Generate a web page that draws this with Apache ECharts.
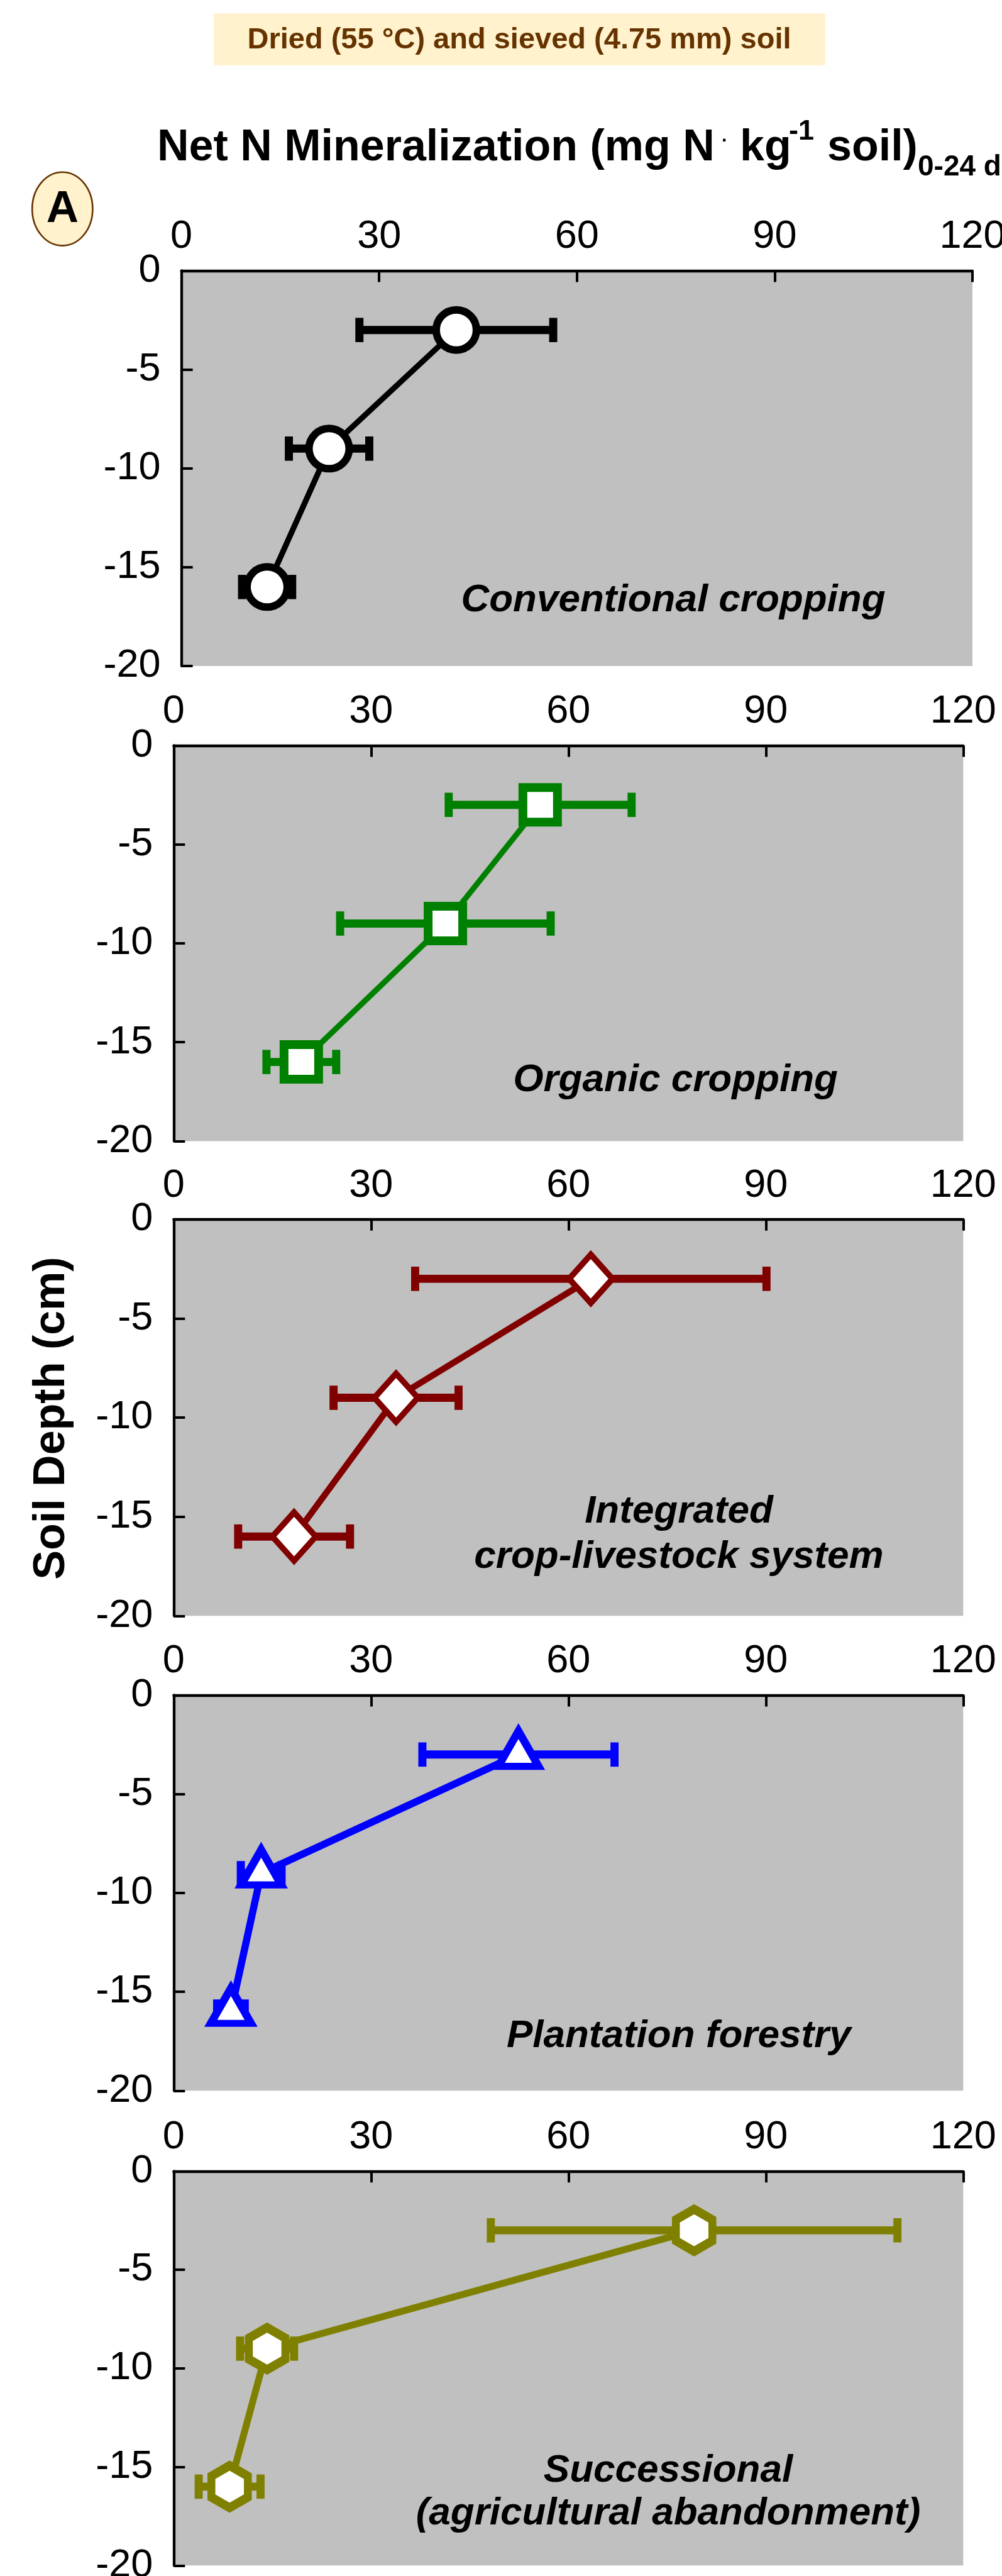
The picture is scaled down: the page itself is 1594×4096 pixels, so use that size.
<!DOCTYPE html>
<html><head><meta charset="utf-8">
<script src="https://cdn.jsdelivr.net/npm/echarts@6/dist/echarts.min.js"></script>
<style>html,body{margin:0;padding:0;background:#fff}#c{width:1594px;height:4096px}</style>
</head><body><div id="c"></div>
<script>
// ---- data ----
const depths = [-3, -9, -16];
const xTicks = [0, 30, 60, 90, 120];
const yTicks = [0, -5, -10, -15, -20];
const conventionalMean = [41.7, 22.4, 13.0];
const conventionalErr  = [14.7, 6.1, 3.8];
const organicMean      = [55.7, 41.3, 19.4];
const organicErr       = [13.9, 16.0, 5.3];
const integratedMean   = [63.4, 33.8, 18.3];
const integratedErr    = [26.7, 9.5, 8.5];
const plantationMean   = [52.4, 13.3, 8.7];
const plantationErr    = [14.6, 3.1, 2.1];
const successionalMean = [79.1, 14.2, 8.5];
const successionalErr  = [30.9, 4.1, 4.7];
const systemLabels = [
  ['Conventional cropping'],
  ['Organic cropping'],
  ['Integrated', 'crop-livestock system'],
  ['Plantation forestry'],
  ['Successional', '(agricultural abandonment)']
];
const boxTitle = 'Dried (55 °C) and sieved (4.75 mm) soil';
const yAxisTitle = 'Soil Depth (cm)';
const panelLetter = 'A';

// ---- layout / style ----
const FF = "'Liberation Sans', Arial, Helvetica, sans-serif";
const HEX = 'path://M50,0 L93.3,25 L93.3,75 L50,100 L6.7,75 L6.7,25 Z';
const panels = [
  {mean: conventionalMean, err: conventionalErr, color: '#000000', symbol: 'circle', size: 64, bw: 12, lw: 9, off: [0,0],
   grid: {left: 288.6, top: 430.4, width: 1258.4, height: 628.7}, labelY: [954.5]},
  {mean: organicMean, err: organicErr, color: '#008000', symbol: 'rect', size: 55, bw: 14, lw: 9, off: [0,0],
   grid: {left: 276.3, top: 1185.4, width: 1256, height: 629}, labelY: [1718]},
  {mean: integratedMean, err: integratedErr, color: '#800000', symbol: 'diamond', size: [69, 77], bw: 9.5, lw: 10, off: [0,0],
   grid: {left: 276.3, top: 1938.8, width: 1256, height: 630.5}, labelY: [2403.5, 2475.6]},
  {mean: plantationMean, err: plantationErr, color: '#0000FF', symbol: 'triangle', size: [64, 56], bw: 12, lw: 11.5, off: [0,-9.3],
   grid: {left: 276.3, top: 2695.5, width: 1256, height: 628.8}, labelY: [3237.6]},
  {mean: successionalMean, err: successionalErr, color: '#808000', symbol: HEX, size: [58, 67], bw: 13.5, lw: 11, off: [0,0],
   grid: {left: 276.3, top: 3452.3, width: 1256, height: 627}, labelY: [3929, 3997]}
];
const labelX = [1071, 1074.6, 1080, 1079.8, 1063];

const grids = [], xAxes = [], yAxes = [], series = [], graphics = [];
panels.forEach((p, i) => {
  grids.push(Object.assign({show: true, backgroundColor: '#C0C0C0', borderWidth: 0, containLabel: false, outerBoundsMode: 'none'}, p.grid));
  xAxes.push({
    gridIndex: i, type: 'value', position: 'top',
    min: xTicks[0], max: xTicks[xTicks.length - 1], interval: xTicks[1] - xTicks[0],
    axisLine: {show: true, onZero: false, lineStyle: {color: '#000', width: 4.3}},
    axisTick: {show: true, inside: true, length: 18, lineStyle: {color: '#000', width: 4}},
    axisLabel: {show: true, margin: 22, fontSize: 63, color: '#000', fontFamily: FF, showMinLabel: true, showMaxLabel: true},
    splitLine: {show: false}
  });
  yAxes.push({
    gridIndex: i, type: 'value', position: 'left',
    min: yTicks[yTicks.length - 1], max: yTicks[0], interval: yTicks[0] - yTicks[1],
    axisLine: {show: true, onZero: false, lineStyle: {color: '#000', width: 4.3}},
    axisTick: {show: true, inside: true, length: 18, lineStyle: {color: '#000', width: 4}},
    axisLabel: {show: true, margin: 33, fontSize: 63, color: '#000', fontFamily: FF, showMinLabel: true, showMaxLabel: true},
    splitLine: {show: false}
  });
  const color = p.color;
  series.push({
    type: 'custom', xAxisIndex: i, yAxisIndex: i, z: 2, silent: true, animation: false,
    encode: {x: 0, y: 1},
    data: p.mean.map((m, k) => [m, depths[k], p.err[k]]),
    renderItem: (params, api) => {
      const m = api.value(0), d = api.value(1), e = api.value(2);
      const a = api.coord([m - e, d]), b = api.coord([m + e, d]);
      const cap = 19.3;
      const st = {stroke: color, lineWidth: 12.9, fill: null};
      return {type: 'group', children: [
        {type: 'line', shape: {x1: a[0], y1: a[1], x2: b[0], y2: b[1]}, style: st},
        {type: 'line', shape: {x1: a[0], y1: a[1] - cap, x2: a[0], y2: a[1] + cap}, style: st},
        {type: 'line', shape: {x1: b[0], y1: b[1] - cap, x2: b[0], y2: b[1] + cap}, style: st}
      ]};
    }
  });
  series.push({
    type: 'line', xAxisIndex: i, yAxisIndex: i, z: 3, silent: true, animation: false,
    data: p.mean.map((m, k) => [m, depths[k]]),
    symbol: p.symbol, symbolSize: p.size, symbolOffset: p.off, showSymbol: true, showAllSymbol: true,
    lineStyle: {color: color, width: p.lw},
    itemStyle: {color: '#ffffff', borderColor: color, borderWidth: p.bw, borderJoin: 'miter'},
    clip: false
  });
  systemLabels[i].forEach((t, j) => {
    graphics.push({type: 'text', x: labelX[i], y: p.labelY[j], z: 10, silent: true,
      style: {text: t, fill: '#000', fontFamily: FF, fontSize: 62, fontWeight: 'bold', fontStyle: 'italic', align: 'center', verticalAlign: 'middle'}});
  });
});

// header box
graphics.push({type: 'rect', shape: {x: 340.2, y: 21.5, width: 972.4, height: 82.5}, style: {fill: '#FFF2CC'}, silent: true});
graphics.push({type: 'text', x: 826, y: 64.4, silent: true,
  style: {text: boxTitle, fill: '#663300', fontFamily: FF, fontSize: 47, fontWeight: 'bold', align: 'center', verticalAlign: 'middle'}});
// main title pieces
const tstyle = (t, size, align) => ({text: t, fill: '#000', fontFamily: FF, fontSize: size, fontWeight: 'bold', align: align || 'left', verticalAlign: 'middle'});
graphics.push({type: 'text', x: 250, y: 235.3, silent: true, style: tstyle('Net N Mineralization (mg N', 70)});
graphics.push({type: 'text', x: 1153, y: 224.6, silent: true, style: tstyle('·', 30, 'center')});
graphics.push({type: 'text', x: 1177, y: 235.3, silent: true, style: tstyle('kg', 70)});
graphics.push({type: 'text', x: 1255, y: 209.2, silent: true, style: tstyle('-1', 45)});
graphics.push({type: 'text', x: 1316, y: 235.3, silent: true, style: tstyle('soil)', 70)});
graphics.push({type: 'text', x: 1460, y: 266.6, silent: true, style: tstyle('0-24 d', 46)});
// panel letter
graphics.push({type: 'ellipse', shape: {cx: 99.3, cy: 332.2, rx: 48.1, ry: 58.4}, style: {fill: '#FFF2CC', stroke: '#663300', lineWidth: 2.6}, silent: true});
graphics.push({type: 'text', x: 99.3, y: 333.5, silent: true, style: tstyle(panelLetter, 71, 'center')});
// y axis title
graphics.push({type: 'text', x: 82.8, y: 2255, rotation: Math.PI / 2, silent: true, style: tstyle(yAxisTitle, 70, 'center')});

const chart = echarts.init(document.getElementById('c'), null, {renderer: 'canvas'});
chart.setOption({
  animation: false,
  backgroundColor: '#ffffff',
  grid: grids, xAxis: xAxes, yAxis: yAxes, series: series,
  graphic: {elements: graphics}
});
</script></body></html>
